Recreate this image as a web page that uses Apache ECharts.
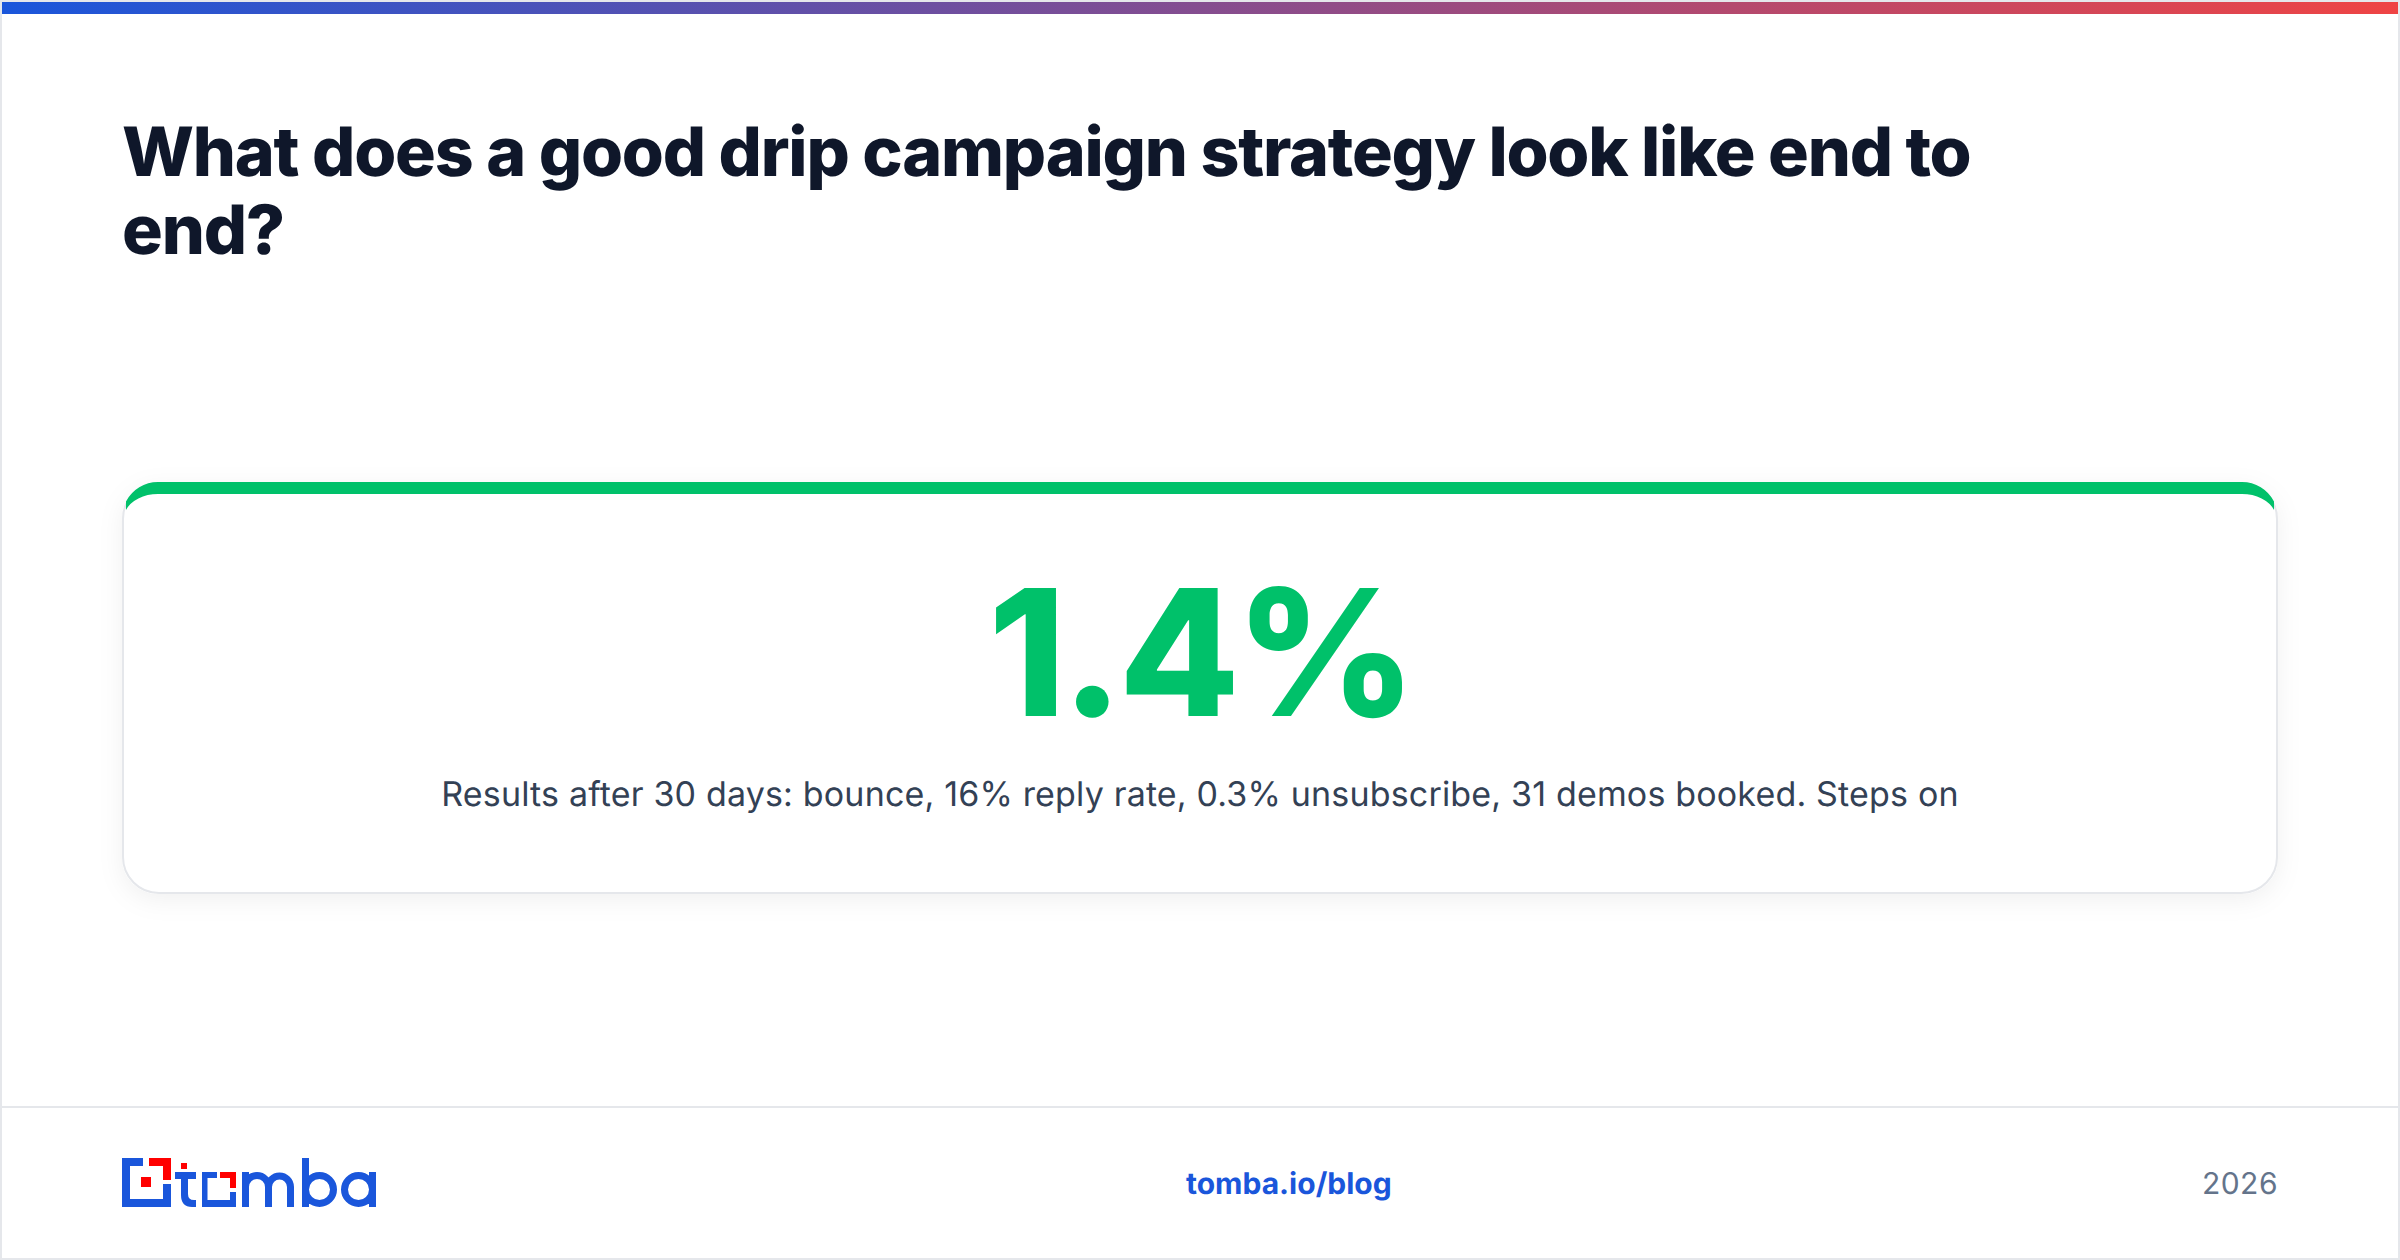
<!DOCTYPE html>
<html>
<head>
<meta charset="utf-8">
<style>
  html, body { margin: 0; padding: 0; background: #fff; }
  #main { width: 2400px; height: 1260px; }
  #main text { text-rendering: geometricPrecision; }
</style>
<script src="https://cdn.jsdelivr.net/npm/echarts@6/dist/echarts.min.js"></script>
</head>
<body>
<div id="main"></div>
<script>
var titleLines = ['What does a good drip campaign strategy look like end to', 'end?'];
var metricValue = ['1.4%'];
var metricNote = ['Results after 30 days: bounce, 16% reply rate, 0.3% unsubscribe, 31 demos booked. Steps on'];
var footerLink = ['tomba.io/blog'];
var footerYear = ['2026'];

var BLUE = '#1a56db';
var GREEN = '#00c16a';
var RED = '#ff0000';
var FONT = 'Inter, "Noto Sans", sans-serif';

var chart = echarts.init(document.getElementById('main'), null, { width: 2400, height: 1260, renderer: 'svg' });

// graphic has no plain path type, so the free shapes get registered
function shape(name, pathData) {
  echarts.graphic.registerShape(name, echarts.graphic.extendPath(pathData, {}));
}
shape('cardTop', 'M126 501.5A36 36 0 0 1 158 482L2242 482A36 36 0 0 1 2274 501.5L2274 510A34 24 0 0 0 2242 494L158 494A34 24 0 0 0 126 510Z');
shape('logoT', 'M175 1172H181V1163V1172H196V1179H188V1194Q188 1200 194 1200H196V1207H192Q181 1207 181 1195V1179H175Z');
shape('logoMba', 'M245.5 1172V1207M245.5 1187A11.5 11.5 0 0 1 268.5 1187V1207M268.5 1187A11 11 0 0 1 290.5 1187V1207'
  + 'M305.5 1158V1207M305.5 1189.5A14 14 0 1 0 333.5 1189.5A14 14 0 1 0 305.5 1189.5'
  + 'M344.5 1189.5A14 14 0 1 0 372.5 1189.5A14 14 0 1 0 344.5 1189.5M372.5 1172V1207');

function box(x, y, w, h, color) {
  return { type: 'rect', shape: { x: x, y: y, width: w, height: h }, style: { fill: color } };
}
function label(text, x, y, size, weight, color, align) {
  return {
    type: 'text', x: x, y: y,
    style: { text: text, fontFamily: FONT, fontSize: size, fontWeight: weight, fill: color, align: align || 'left', verticalAlign: 'top' }
  };
}

var elements = [
  // page frame and gradient strip
  { type: 'rect', shape: { x: 1, y: 1, width: 2398, height: 1258 }, style: { fill: '#fff', stroke: '#e5e7eb', lineWidth: 2 } },
  {
    type: 'rect', shape: { x: 2, y: 2, width: 2396, height: 12 },
    style: { fill: new echarts.graphic.LinearGradient(0, 0, 1, 0, [{ offset: 0, color: '#1a56db' }, { offset: 1, color: '#ef4444' }]) }
  },
  label(titleLines[0], 122, 118, 68, 800, '#0f172a'),
  label(titleLines[1], 122, 196, 68, 800, '#0f172a'),
  // card
  {
    type: 'rect', shape: { x: 123, y: 483, width: 2154, height: 410, r: 36 },
    style: { fill: '#fff', stroke: '#e5e7eb', lineWidth: 2, shadowBlur: 24, shadowOffsetY: 6, shadowColor: 'rgba(15,23,42,0.06)' }
  },
  { type: 'cardTop', style: { fill: GREEN } },
  label(metricValue[0], 1200, 564, 176, 800, GREEN, 'center'),
  label(metricNote[0], 1200, 777, 34, 400, '#334155', 'center'),
  // footer
  box(2, 1106, 2396, 2, '#e5e7eb'),
  label(footerLink[0], 1186, 1169, 30, 700, BLUE),
  label(footerYear[0], 2278, 1169, 30, 400, '#64748b', 'right'),
  // logo: bracket
  box(122, 1158, 21, 8, BLUE),
  box(122, 1158, 8, 49, BLUE),
  box(122, 1199, 49, 8, BLUE),
  box(163, 1184, 8, 23, BLUE),
  box(149, 1158, 22, 8, RED),
  box(163, 1158, 8, 22, RED),
  box(141, 1177, 10, 10, RED),
  // logo: t and o
  box(181, 1163, 6, 6, RED),
  { type: 'logoT', style: { fill: BLUE } },
  box(202, 1172, 15, 6, BLUE),
  box(202, 1172, 5.5, 35, BLUE),
  box(202, 1200, 34, 7, BLUE),
  box(230, 1192, 6, 15, BLUE),
  box(220, 1172, 16, 6, RED),
  box(230, 1172, 6, 16, RED),
  // logo: m b a
  { type: 'logoMba', style: { fill: 'none', stroke: BLUE, lineWidth: 7 } }
];

chart.setOption({
  backgroundColor: '#fff',
  animation: false,
  graphic: { elements: elements }
});

// letter spacing goes on afterwards, zrender has no option for it
var spacing = {};
spacing[titleLines[0]] = '-1.2';
spacing[titleLines[1]] = '-1.2';
spacing[metricValue[0]] = '-4.6';
spacing[metricNote[0]] = '0.17';
spacing[footerYear[0]] = '0.5';
function applySpacing() {
  document.querySelectorAll('#main text').forEach(function (t) {
    if (spacing[t.textContent]) t.setAttribute('letter-spacing', spacing[t.textContent]);
  });
}
applySpacing();
chart.on('finished', applySpacing);
</script>
</body>
</html>
